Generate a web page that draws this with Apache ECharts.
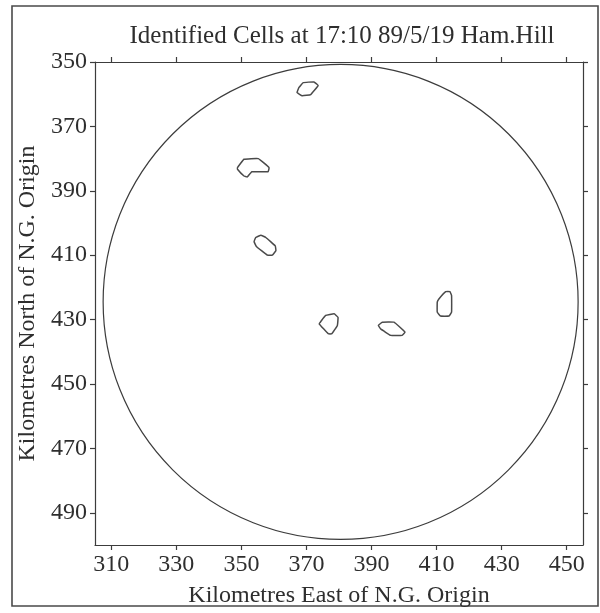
<!DOCTYPE html>
<html>
<head>
<meta charset="utf-8">
<script src="https://cdn.jsdelivr.net/npm/echarts@6/dist/echarts.min.js"></script>
<style>
  html, body { margin: 0; padding: 0; background: #fff; }
  #chart { width: 600px; height: 613px; }
</style>
</head>
<body>
<div id="chart"></div>
<script>
// Axis ranges and tick labels (km from the National Grid origin)
const xRange = [305, 455];
const yRange = [350, 500];
const xTicks = [310, 330, 350, 370, 390, 410, 430, 450];
const yTicks = [350, 370, 390, 410, 430, 450, 470, 490];

// Radar coverage circle: centre east, centre north, radius (km)
const coverage = [380.5, 424.5, 73];

// Outlines of the identified cells, each a list of [east, north] vertices
const cellA = [[367.7, 357.9], [369.0, 356.4], [372.3, 356.2], [373.6, 357.3], [371.3, 360.1], [368.7, 360.5], [367.1, 359.5]];
const cellB = [[348.8, 382.8], [350.8, 380.2], [355.2, 380.0], [358.5, 382.8], [358.2, 384.1], [353.2, 384.1], [351.8, 385.7], [350.8, 385.4], [348.8, 383.3]];
const cellC = [[354.4, 404.5], [356.0, 403.8], [357.5, 404.5], [360.4, 407.1], [360.6, 408.6], [359.5, 410.0], [358.0, 410.0], [354.6, 407.3], [353.9, 405.8]];
const cellD = [[375.9, 428.7], [378.5, 428.2], [379.7, 429.3], [379.5, 431.8], [377.8, 434.4], [376.7, 434.4], [373.9, 431.3], [374.4, 430.6]];
const cellE = [[392.1, 431.8], [393.3, 430.8], [396.9, 430.8], [400.3, 433.9], [399.4, 434.9], [395.9, 434.9], [392.8, 432.9]];
const cellF = [[410.7, 423.6], [412.8, 421.3], [414.1, 421.3], [414.6, 422.5], [414.6, 427.7], [413.8, 428.9], [411.2, 428.9], [410.2, 427.7], [410.2, 424.6]];
const cells = [cellA, cellB, cellC, cellD, cellE, cellF];

const FONT = 'Liberation Serif';
const INK = '#3c3c3c';
const TEXT = '#2e2e2e';

const chart = echarts.init(document.getElementById('chart'), null, { renderer: 'canvas' });

const baseAxis = {
  axisLine: { show: true, onZero: false, lineStyle: { color: INK, width: 1.2 } },
  splitLine: { show: false },
  axisTick: { show: true, inside: false, length: 5, lineStyle: { color: INK, width: 1.2 } }
};

const option = {
  backgroundColor: '#ffffff',
  animation: false,
  title: {
    text: 'Identified Cells at 17:10 89/5/19 Ham.Hill',
    left: 337,
    top: 19,
    textAlign: 'center',
    textStyle: { fontFamily: FONT, fontSize: 25, fontWeight: 'normal', color: TEXT }
  },
  grid: { left: 95, right: 17, top: 62, bottom: 67, containLabel: false },
  xAxis: [
    Object.assign({}, baseAxis, {
      type: 'value', position: 'bottom', min: xRange[0], max: xRange[1],
      name: 'Kilometres East of N.G. Origin', nameLocation: 'middle', nameGap: 39,
      nameTextStyle: { fontFamily: FONT, fontSize: 24, color: TEXT },
      axisTick: Object.assign({}, baseAxis.axisTick, { customValues: xTicks }),
      axisLabel: { customValues: xTicks, margin: 8, fontFamily: FONT, fontSize: 24, color: TEXT }
    }),
    Object.assign({}, baseAxis, {
      type: 'value', position: 'top', min: xRange[0], max: xRange[1],
      axisTick: Object.assign({}, baseAxis.axisTick, { customValues: xTicks }),
      axisLabel: { show: false }
    })
  ],
  yAxis: [
    Object.assign({}, baseAxis, {
      type: 'value', position: 'left', inverse: true, min: yRange[0], max: yRange[1],
      name: 'Kilometres North of N.G. Origin', nameLocation: 'middle', nameGap: 51,
      nameTextStyle: { fontFamily: FONT, fontSize: 24, color: TEXT },
      axisTick: Object.assign({}, baseAxis.axisTick, { customValues: yTicks }),
      axisLabel: { customValues: yTicks, margin: 8, fontFamily: FONT, fontSize: 24, color: TEXT }
    }),
    Object.assign({}, baseAxis, {
      type: 'value', position: 'right', inverse: true, min: yRange[0], max: yRange[1],
      axisTick: Object.assign({}, baseAxis.axisTick, { customValues: yTicks }),
      axisLabel: { show: false }
    })
  ],
  graphic: [{
    type: 'rect',
    shape: { x: 12, y: 6, width: 586, height: 600 },
    style: { fill: 'none', stroke: '#4a4a4a', lineWidth: 1.6 },
    silent: true
  }],
  series: [
    {
      type: 'custom',
      name: 'coverage',
      coordinateSystem: 'cartesian2d',
      xAxisIndex: 0, yAxisIndex: 0,
      data: [coverage],
      renderItem: function (params, api) {
        const c = api.coord([api.value(0), api.value(1)]);
        const r = api.size([api.value(2), 0])[0];
        return {
          type: 'circle',
          shape: { cx: c[0], cy: c[1], r: r },
          style: { fill: 'none', stroke: INK, lineWidth: 1.2 }
        };
      }
    },
    {
      type: 'custom',
      name: 'cells',
      coordinateSystem: 'cartesian2d',
      xAxisIndex: 0, yAxisIndex: 0,
      data: cells.map(function (c, i) { return [c[0][0], c[0][1], i]; }),
      renderItem: function (params, api) {
        const pts = cells[params.dataIndex].map(function (p) { return api.coord(p); });
        return {
          type: 'polygon',
          shape: { points: pts, smooth: 0.08 },
          style: { fill: 'none', stroke: '#4a4a4a', lineWidth: 1.5, lineJoin: 'round' }
        };
      }
    }
  ]
};

chart.setOption(option);
</script>
</body>
</html>
